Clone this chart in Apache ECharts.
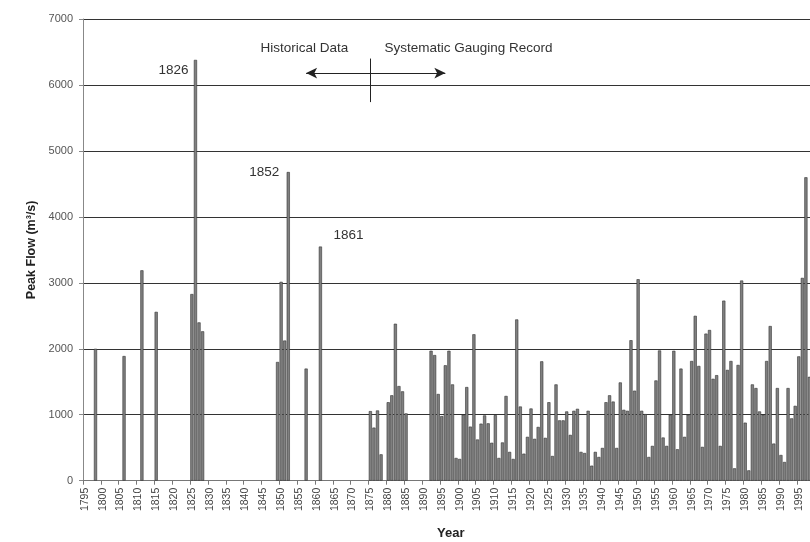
<!DOCTYPE html>
<html>
<head>
<meta charset="utf-8">
<script src="https://cdn.jsdelivr.net/npm/echarts@6/dist/echarts.min.js"></script>
<style>
html,body{margin:0;padding:0;background:#fff;}
#chart{width:810px;height:542px;}
</style>
</head>
<body>
<div id="chart"></div>
<script>
// historical floods (before gauging)
const historicalYears = [1798, 1806, 1811, 1815, 1825, 1826, 1827, 1828, 1849, 1850, 1851, 1852, 1857, 1861]
const historicalFlows = [2000, 1890, 3190, 2560, 2830, 6380, 2400, 2265, 1800, 3015, 2125, 4680, 1700, 3550]

// systematic gauging record, one value per year from 1875, null = no record
const systematicStart = 1875
const systematicFlows = [
    1055, 805, 1065, 400, null, 1190, 1295, 2380, 1435, 1355,      // 1875-1884
    1020, null, null, null, null, null, null, 1970, 1905, 1315,    // 1885-1894
    980, 1750, 1970, 1460, 345, 330, 1000, 1420, 820, 2220,        // 1895-1904
    625, 865, 990, 870, 575, 995, 345, 580, 1285, 437,             // 1905-1914
    330, 2445, 1125, 410, 665, 1095, 635, 815, 1810, 650,          // 1915-1924
    1190, 375, 1460, 915, 915, 1050, 695, 1060, 1090, 437,         // 1925-1934
    420, 1060, 228, 437, 360, 497, 1190, 1295, 1200, 497,          // 1935-1944
    1490, 1075, 1060, 2130, 1365, 3055, 1060, 1010, 360, 528,      // 1945-1954
    1520, 1975, 655, 528, 1000, 1970, 477, 1700, 665, 1000,        // 1955-1964
    1815, 2500, 1740, 513, 2230, 2285, 1545, 1600, 528, 2730,      // 1965-1974
    1680, 1815, 188, 1755, 3035, 880, 157, 1460, 1405, 1050,       // 1975-1984
    1000, 1815, 2345, 563, 1405, 390, 284, 1405, 945, 1135,        // 1985-1994
    1885, 3075, 4600, 1575                                         // 1995-1998
]

const firstYear = 1795
const lastYear = 2000
const yMax = 7000
const yStep = 1000

// annotations
const peakNotes = [
    { text: '1826', year: 1826, value: 6380 },
    { text: '1852', year: 1852, value: 4680 },
    { text: '1861', year: 1861, value: 3550 }
]
const periodNotes = ['Historical Data', 'Systematic Gauging Record']
const arrowYears = [1857, 1896]
const arrowValue = 6180
const dividerYear = 1875
const dividerValues = [6400, 5740]

// 建表
const years = []
const flows = []
for (let y = firstYear; y <= lastYear; y++) {
    years.push(String(y))
    flows.push(null)
}
historicalYears.forEach((y, i) => {
    flows[y - firstYear] = historicalFlows[i]
})
systematicFlows.forEach((v, i) => {
    flows[systematicStart - firstYear + i] = v
})

const font = "'Liberation Sans', Arial, sans-serif"
const chartDom = document.getElementById('chart')
const myChart = echarts.init(chartDom, null, { renderer: 'canvas' })

const option = {
    animation: false,
    backgroundColor: '#fff',
    textStyle: { fontFamily: font },
    grid: {
        left: 83,
        top: 19,
        width: 735.4,
        height: 461.7,
        containLabel: false,
        outerBoundsMode: 'none'
    },
    xAxis: {
        type: 'category',
        data: years,
        name: 'Year',
        nameLocation: 'middle',
        nameGap: 46,
        nameTextStyle: { fontFamily: font, fontSize: 13, fontWeight: 'bold', color: '#222' },
        axisLine: { lineStyle: { color: '#777', width: 1 } },
        axisTick: { show: true, interval: 4, length: 4, lineStyle: { color: '#777' } },
        axisLabel: { interval: 4, rotate: 90, fontSize: 10.5, color: '#444', margin: 7, fontFamily: font },
        splitLine: { show: false }
    },
    yAxis: {
        type: 'value',
        min: 0,
        max: yMax,
        interval: yStep,
        name: 'Peak Flow (m³/s)',
        nameLocation: 'middle',
        nameGap: 43,
        nameTextStyle: { fontFamily: font, fontSize: 12.5, fontWeight: 'bold', color: '#222' },
        axisLine: { show: true, lineStyle: { color: '#888', width: 1 } },
        axisTick: { show: true, length: 4, lineStyle: { color: '#888' } },
        axisLabel: { fontSize: 11, color: '#555', margin: 10, fontFamily: font, formatter: v => String(v) },
        splitLine: { show: true, lineStyle: { color: '#333', width: 1.1 } }
    },
    series: [
        {
            type: 'bar',
            data: flows,
            barCategoryGap: '12%',
            itemStyle: { color: '#808080', borderColor: '#333', borderWidth: 0.6 },
            markLine: {
                silent: true,
                animation: false,
                label: { show: false },
                lineStyle: { color: '#222', width: 1, type: 'solid' },
                symbol: ['arrow', 'arrow'],
                symbolSize: [8, 11],
                data: [
                    [
                        { coord: [String(arrowYears[0]), arrowValue] },
                        { coord: [String(arrowYears[1]), arrowValue] }
                    ],
                    [
                        { coord: [String(dividerYear), dividerValues[0]], symbol: 'none' },
                        { coord: [String(dividerYear), dividerValues[1]], symbol: 'none' }
                    ]
                ]
            }
        }
    ]
}
myChart.setOption(option)

// 文字标注
const toPx = (year, value) => myChart.convertToPixel({ gridIndex: 0 }, [String(year), value])
const noteStyle = { fontFamily: font, fontSize: 13.5, fill: '#333' }
const graphics = []
const peakOffsets = [[-7, 10, 'right'], [-9, 0, 'right'], [13, -11, 'left']]
peakNotes.forEach((n, i) => {
    const p = toPx(n.year, n.value)
    const o = peakOffsets[i]
    graphics.push({
        type: 'text',
        x: p[0] + o[0],
        y: p[1] + o[1],
        style: Object.assign({ text: n.text, align: o[2], verticalAlign: 'middle' }, noteStyle)
    })
})
const div = toPx(dividerYear, 6560)
graphics.push({
    type: 'text', x: div[0] - 22, y: div[1],
    style: Object.assign({ text: periodNotes[0], align: 'right', verticalAlign: 'middle' }, noteStyle)
})
graphics.push({
    type: 'text', x: div[0] + 14, y: div[1],
    style: Object.assign({ text: periodNotes[1], align: 'left', verticalAlign: 'middle' }, noteStyle)
})
myChart.setOption({ graphic: graphics })
</script>
</body>
</html>
